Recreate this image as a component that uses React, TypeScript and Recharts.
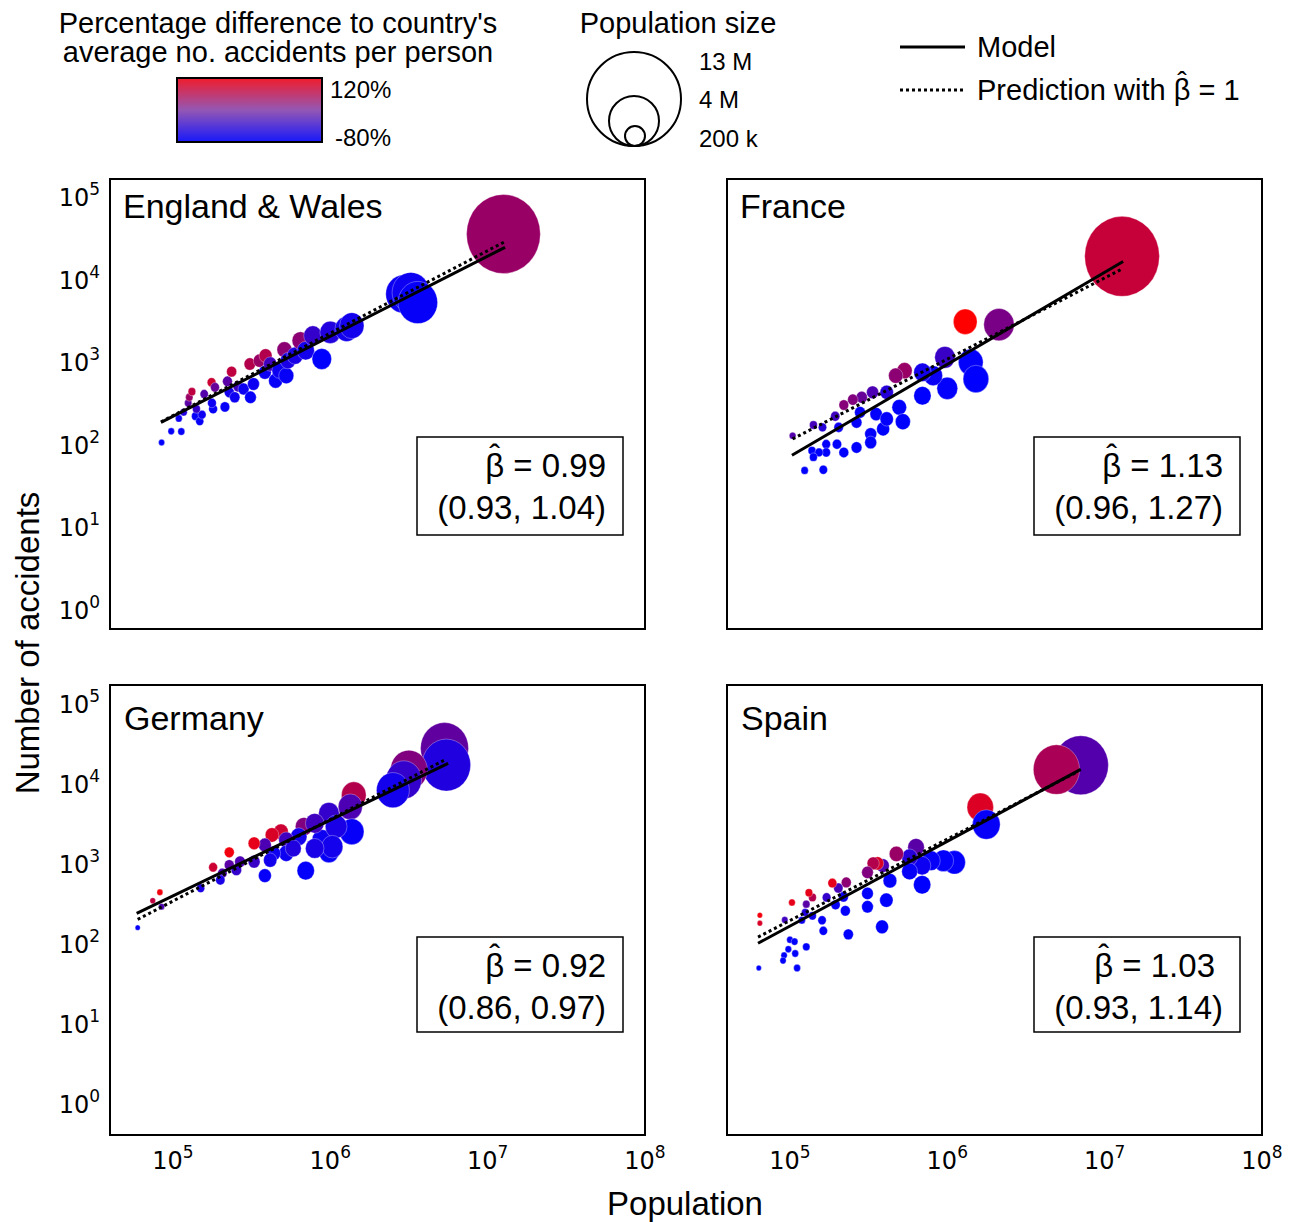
import { ScatterChart, Scatter, XAxis, YAxis, ReferenceArea } from "recharts"

// Each region: population, number of accidents, % difference to the country's average rate
const ENGLAND_POP = [84700, 97500, 113000, 109000, 117000, 139000, 148000, 153000, 141000, 125000, 127000, 132000, 158000, 176000, 185000, 180000, 177000, 214000, 222000, 236000, 228000, 247000, 260000, 281000, 308000, 311000, 325000, 355000, 388000, 384000, 415000, 449000, 473000, 511000, 525000, 538000, 597000, 646000, 698000, 775000, 883000, 1000000, 1270000, 1370000, 2920000, 3250000, 3600000, 12600000]
const ENGLAND_ACC = [107, 146, 145, 209, 248, 222, 193, 232, 272, 321, 377, 441, 413, 572, 497, 272, 321, 288, 588, 770, 433, 377, 512, 475, 953, 377, 546, 1047, 1203, 756, 953, 599, 792, 1422, 689, 1047, 1203, 1829, 1383, 2103, 1096, 2307, 2531, 2778, 6700, 7000, 5300, 35800]
const ENGLAND_DIFF = [-80, -75, -75, -70, -55, -75, -75, -70, -40, -10, 40, 70, -15, 80, 0, -75, -70, -75, -10, 70, -65, -70, -30, -70, 60, -75, -70, 40, 60, -70, -30, -75, -70, 30, -75, -60, -60, 30, -65, -40, -80, -55, -65, -65, -70, -70, -75, 40]

const FRANCE_POP = [12900000, 1300000, 2130000, 966000, 1410000, 1520000, 1000000, 813000, 695000, 695000, 535000, 470000, 495000, 522000, 412000, 391000, 353000, 412000, 326000, 326000, 335000, 286000, 251000, 220000, 279000, 265000, 265000, 220000, 194000, 204000, 199000, 170000, 170000, 161000, 141000, 138000, 153000, 141000, 124000, 163000, 104000]
const FRANCE_ACC = [19200, 3100, 2860, 1148, 1000, 628, 484, 689, 756, 394, 792, 689, 285, 191, 433, 156, 236, 206, 135, 107, 433, 377, 353, 304, 248, 187, 93, 81, 222, 163, 102, 102, 81, 163, 174, 85, 81, 71, 49, 50, 129]
const FRANCE_DIFF = [75, 120, 15, -35, -78, -80, -78, -72, -65, -80, 40, 30, -80, -80, -50, -80, -78, -78, -78, -80, -20, 0, 20, 25, -75, -78, -80, -80, -30, -70, -80, -78, -80, -50, -25, -80, -80, -80, -80, -80, -15]

const GERMANY_POP = [5320000, 5460000, 3160000, 2930000, 2500000, 1410000, 1340000, 1370000, 980000, 883000, 980000, 1090000, 680000, 796000, 630000, 486000, 426000, 525000, 525000, 437000, 415000, 384000, 328000, 328000, 384000, 698000, 228000, 267000, 228000, 253000, 206000, 200000, 180000, 150000, 82600, 74400, 84700, 59700, 1030000, 796000, 582000]
const GERMANY_ACC = [28100, 17300, 15000, 11300, 8400, 7300, 5200, 2540, 4300, 2000, 1430, 2940, 2940, 3230, 2200, 2540, 2310, 2000, 1360, 1360, 1120, 1730, 1820, 1070, 716, 827, 1400, 1070, 973, 843, 766, 632, 910, 497, 443, 348, 293, 160, 1650, 1570, 1570]
const GERMANY_DIFF = [-5, -55, 20, -40, -65, 60, -20, -75, -40, -70, -75, -60, 20, -30, -65, 80, 90, -30, -70, -70, -65, -20, 100, -35, -75, -78, 110, -20, -10, -40, -20, -60, 80, -60, 110, 70, -20, -75, -65, -60, -55]

const SPAIN_POP = [7050000, 4940000, 1620000, 1770000, 1110000, 946000, 788000, 692000, 692000, 633000, 576000, 576000, 475000, 432000, 410000, 385000, 389000, 360000, 338000, 311000, 311000, 311000, 228000, 225000, 235000, 219000, 203000, 186000, 171000, 195000, 163000, 160000, 139000, 132000, 127000, 127000, 103000, 92700, 100000, 107000, 97700, 91800, 90400, 108000, 111000, 64400, 64400, 63400, 119000, 139000, 125000]
const SPAIN_ACC = [17200, 15200, 5150, 3120, 1050, 1100, 1100, 551, 955, 1620, 1210, 809, 1340, 618, 353, 164, 955, 1020, 1020, 787, 429, 292, 589, 260, 132, 389, 500, 578, 382, 309, 146, 198, 382, 437, 315, 92, 330, 200, 113, 107, 86, 72, 62, 76, 50, 229, 182, 50, 198, 225, 248]
const SPAIN_DIFF = [-15, 53, 92, -75, -78, -78, -75, -80, -70, -10, -50, -75, 40, -78, -80, -80, -20, 90, 60, 20, -78, -80, 30, -78, -80, -70, -25, 100, -40, -75, -78, -75, 60, 100, -10, -80, 100, -30, -75, -80, -80, -80, -80, -80, -80, 110, 90, -80, -70, -70, -55]

// fitted model and beta = 1 prediction, end points [population, accidents]
const ENGLAND_MODEL = [[84000, 187], [12900000, 24700]]
const ENGLAND_UNIT = [[84000, 190], [12900000, 29000]]
const FRANCE_MODEL = [[103000, 75], [13100000, 16600]]
const FRANCE_UNIT = [[104000, 118], [13100000, 13700]]
const GERMANY_MODEL = [[58800, 242], [5610000, 18200]]
const GERMANY_UNIT = [[59700, 203], [5320000, 20000]]
const SPAIN_MODEL = [[62700, 102], [7050000, 15300]]
const SPAIN_UNIT = [[62700, 122], [6690000, 14200]]

const BETAS = ["0.99", "1.13", "0.92", "1.03"]
const INTERVALS = ["(0.93, 1.04)", "(0.96, 1.27)", "(0.86, 0.97)", "(0.93, 1.14)"]

const X_DOMAIN = [10 ** 4.6, 1e8]
const TOP_Y = [10 ** -0.23, 10 ** 5.22]
const BOTTOM_Y = [10 ** -0.39, 10 ** 5.24]
const X_TICKS = [1e5, 1e6, 1e7, 1e8]
const Y_TICKS = [1, 10, 100, 1000, 10000, 100000]

const SANS = "'Liberation Sans', Arial, sans-serif"
const TICK_FONT = "'DejaVu Sans', sans-serif"
const MAX_R = 37.5
const MAX_POP = 13e6

function diffColor(d: number) {
  const t = Math.max(0, Math.min(1, (d + 80) / 200))
  return `rgb(${Math.round(255 * t)},0,${Math.round(255 * (1 - t))})`
}

const renderBubble = (props: any) => {
  const { cx, cy, payload } = props
  const rx = MAX_R * Math.sqrt(payload.pop / MAX_POP)
  return (
    <ellipse
      cx={cx}
      cy={cy}
      rx={rx}
      ry={rx * 1.07}
      fill={diffColor(payload.diff)}
      stroke="#fff"
      strokeOpacity={0.45}
      strokeWidth={0.7}
    />
  )
}

const renderNothing = () => <g />

const PowerTickX = (props: any) => {
  const { x, y, payload } = props
  const e = Math.round(Math.log10(payload.value))
  return (
    <text x={x} y={y + 34} textAnchor="middle" fontFamily={TICK_FONT} fontSize={24} fill="#000">
      10<tspan dy={-11} fontSize={17}>{e}</tspan>
    </text>
  )
}

const PowerTickY = (props: any) => {
  const { x, y, payload } = props
  const e = Math.round(Math.log10(payload.value))
  return (
    <text x={x} y={y + 9} textAnchor="end" fontFamily={TICK_FONT} fontSize={24} fill="#000">
      10<tspan dy={-11} fontSize={17}>{e}</tspan>
    </text>
  )
}

// beta with a circumflex placed over it
function BetaHat({ size }: { size: number }) {
  const w = 0.57 * size
  const hatW = 0.333 * size
  const back = w / 2 + hatW / 2
  return (
    <>
      <tspan>{"\u03B2"}</tspan>
      <tspan dx={-back} dy={-0.28 * size}>{"\u02C6"}</tspan>
      <tspan dx={back - hatW} dy={0.28 * size}>{" = "}</tspan>
    </>
  )
}

type PanelProps = {
  left: number
  top: number
  pop: number[]
  acc: number[]
  diff: number[]
  model: number[][]
  unit: number[][]
  yDomain: number[]
  showX: boolean
  showY: boolean
}

function Panel({ left, top, pop, acc, diff, model, unit, yDomain, showX, showY }: PanelProps) {
  const points = pop.map((p, i) => ({ pop: p, acc: acc[i], diff: diff[i] }))
  const modelLine = model.map(([p, a]) => ({ pop: p, acc: a }))
  const unitLine = unit.map(([p, a]) => ({ pop: p, acc: a }))

  return (
    <div style={{ position: "absolute", left: left - 100, top: top - 10 }}>
      <ScatterChart width={665} height={510} margin={{ top: 10, right: 30, bottom: 0, left: 0 }}>
        <XAxis
          type="number"
          dataKey="pop"
          scale="log"
          domain={X_DOMAIN}
          ticks={X_TICKS}
          interval={0}
          allowDataOverflow
          height={50}
          axisLine={false}
          tickLine={false}
          tickSize={0}
          tickMargin={0}
          tick={showX ? PowerTickX : false}
        />
        <YAxis
          type="number"
          dataKey="acc"
          scale="log"
          domain={yDomain}
          ticks={Y_TICKS}
          interval={0}
          allowDataOverflow
          width={100}
          axisLine={false}
          tickLine={false}
          tickSize={0}
          tickMargin={10}
          tick={showY ? PowerTickY : false}
        />
        <ReferenceArea
          x1={X_DOMAIN[0]}
          x2={X_DOMAIN[1]}
          y1={yDomain[0]}
          y2={yDomain[1]}
          fill="none"
          stroke="#000"
          strokeWidth={2}
        />
        <Scatter data={points} shape={renderBubble} isAnimationActive={false} />
        <Scatter
          data={modelLine}
          line={{ stroke: "#000", strokeWidth: 3 }}
          shape={renderNothing}
          isAnimationActive={false}
        />
        <Scatter
          data={unitLine}
          line={{ stroke: "#000", strokeWidth: 3, strokeDasharray: "3 3" }}
          shape={renderNothing}
          isAnimationActive={false}
        />
      </ScatterChart>
    </div>
  )
}

function StatBox({ x, y, h, beta, ci, betaRight }: { x: number; y: number; h: number; beta: string; ci: string; betaRight: number }) {
  return (
    <g>
      <rect x={x} y={y} width={206} height={h} fill="#fff" stroke="#000" strokeWidth={1.5} />
      <text x={x + betaRight} y={y + 40} textAnchor="end" fontFamily={SANS} fontSize={33}>
        <BetaHat size={33} />
        <tspan>{beta}</tspan>
      </text>
      <text x={x + 189} y={y + 82} textAnchor="end" fontFamily={SANS} fontSize={33}>
        {ci}
      </text>
    </g>
  )
}

export default function App() {
  return (
    <div style={{ position: "absolute", left: 0, top: 0, width: 1304, height: 1222, background: "#fff" }}>
      <Panel left={110} top={179} pop={ENGLAND_POP} acc={ENGLAND_ACC} diff={ENGLAND_DIFF} model={ENGLAND_MODEL} unit={ENGLAND_UNIT} yDomain={TOP_Y} showX={false} showY />
      <Panel left={727} top={179} pop={FRANCE_POP} acc={FRANCE_ACC} diff={FRANCE_DIFF} model={FRANCE_MODEL} unit={FRANCE_UNIT} yDomain={TOP_Y} showX={false} showY={false} />
      <Panel left={110} top={685} pop={GERMANY_POP} acc={GERMANY_ACC} diff={GERMANY_DIFF} model={GERMANY_MODEL} unit={GERMANY_UNIT} yDomain={BOTTOM_Y} showX showY />
      <Panel left={727} top={685} pop={SPAIN_POP} acc={SPAIN_ACC} diff={SPAIN_DIFF} model={SPAIN_MODEL} unit={SPAIN_UNIT} yDomain={BOTTOM_Y} showX showY={false} />

      <svg width={1304} height={1222} style={{ position: "absolute", left: 0, top: 0, pointerEvents: "none" }}>
        <defs>
          <linearGradient id="diffGrad" x1="0" y1="0" x2="0" y2="1">
            <stop offset="0%" stopColor="#f01c2c" />
            <stop offset="50%" stopColor="#9457b4" />
            <stop offset="100%" stopColor="#1818fa" />
          </linearGradient>
        </defs>

        {/* colour legend */}
        <text x={278} y={33} textAnchor="middle" fontFamily={SANS} fontSize={29}>Percentage difference to country's</text>
        <text x={278} y={62} textAnchor="middle" fontFamily={SANS} fontSize={29}>average no. accidents per person</text>
        <rect x={177} y={78} width={145} height={64} fill="url(#diffGrad)" stroke="#000" strokeWidth={2} />
        <text x={330} y={98} fontFamily={SANS} fontSize={24}>120%</text>
        <text x={335} y={146} fontFamily={SANS} fontSize={24}>-80%</text>

        {/* size legend */}
        <text x={678} y={33} textAnchor="middle" fontFamily={SANS} fontSize={29}>Population size</text>
        <circle cx={634} cy={99} r={47} fill="none" stroke="#000" strokeWidth={2} />
        <circle cx={634} cy={121} r={25} fill="none" stroke="#000" strokeWidth={2} />
        <circle cx={635} cy={136} r={10} fill="none" stroke="#000" strokeWidth={2} />
        <text x={699} y={70} fontFamily={SANS} fontSize={24}>13 M</text>
        <text x={699} y={108} fontFamily={SANS} fontSize={24}>4 M</text>
        <text x={699} y={147} fontFamily={SANS} fontSize={24}>200 k</text>

        {/* line legend */}
        <line x1={900} y1={47} x2={965} y2={47} stroke="#000" strokeWidth={3} />
        <text x={977} y={57} fontFamily={SANS} fontSize={29}>Model</text>
        <line x1={900} y1={90} x2={965} y2={90} stroke="#000" strokeWidth={3} strokeDasharray="3 3" />
        <text x={977} y={100} fontFamily={SANS} fontSize={29}>
          <tspan>{"Prediction with "}</tspan>
          <BetaHat size={29} />
          <tspan>1</tspan>
        </text>

        {/* panel titles */}
        <text x={123} y={218} fontFamily={SANS} fontSize={34}>England &amp; Wales</text>
        <text x={740} y={218} fontFamily={SANS} fontSize={34}>France</text>
        <text x={124} y={730} fontFamily={SANS} fontSize={34}>Germany</text>
        <text x={741} y={730} fontFamily={SANS} fontSize={34}>Spain</text>

        <StatBox x={417} y={437} h={98} beta={BETAS[0]} ci={INTERVALS[0]} betaRight={189} />
        <StatBox x={1034} y={437} h={98} beta={BETAS[1]} ci={INTERVALS[1]} betaRight={189} />
        <StatBox x={417} y={937} h={95} beta={BETAS[2]} ci={INTERVALS[2]} betaRight={189} />
        <StatBox x={1034} y={937} h={95} beta={BETAS[3]} ci={INTERVALS[3]} betaRight={181} />

        {/* axis titles */}
        <text transform="translate(27,643) rotate(-90)" x={0} y={12} textAnchor="middle" fontFamily={SANS} fontSize={33}>Number of accidents</text>
        <text x={685} y={1215} textAnchor="middle" fontFamily={SANS} fontSize={33}>Population</text>
      </svg>
    </div>
  )
}
